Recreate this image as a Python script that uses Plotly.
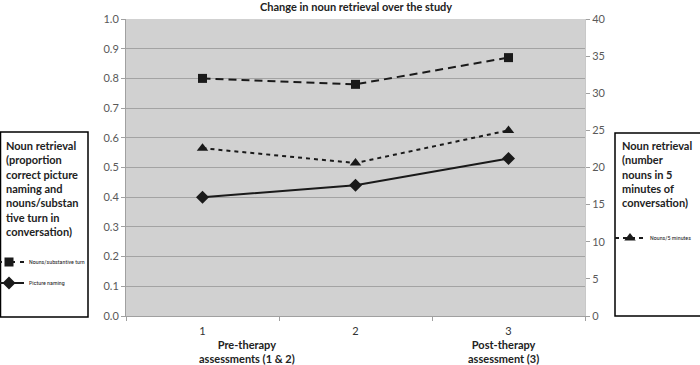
import plotly.graph_objects as go

categories = ["1", "2", "3"]
nouns_per_turn = [0.80, 0.78, 0.87]
picture_naming = [0.40, 0.44, 0.53]
nouns_per_5min = [22.6, 20.6, 25.0]

W, H = 700, 365
L, R, T, B = 126, 585, 19, 316

def px(x):
    return (x - L) / (R - L)

def py(y):
    return (B - y) / (B - T)

FONT = "Lato, Open Sans, sans-serif"
INK = "#1a1a1a"

fig = go.Figure()
fig.add_trace(go.Scatter(
    x=categories, y=nouns_per_turn, name="Nouns/substantive turn",
    mode="lines+markers", line=dict(color=INK, width=2, dash="8px,5px"),
    marker=dict(symbol="square", size=9, color=INK), legend="legend"))
fig.add_trace(go.Scatter(
    x=categories, y=picture_naming, name="Picture naming",
    mode="lines+markers", line=dict(color=INK, width=2),
    marker=dict(symbol="diamond", size=10, color=INK), legend="legend2"))
fig.add_trace(go.Scatter(
    x=categories, y=nouns_per_5min, name="Nouns/5 minutes",
    mode="lines+markers", line=dict(color=INK, width=2, dash="4px,4px"),
    marker=dict(symbol="triangle-up", size=10, color=INK),
    yaxis="y2", legend="legend3"))

legend_common = dict(font=dict(family="Liberation Sans Narrow, Roboto Condensed, sans-serif", size=6, color=INK),
                     bgcolor="rgba(0,0,0,0)", itemwidth=30, xanchor="left", yanchor="middle")

fig.update_layout(
    width=W, height=H,
    margin=dict(l=L, r=W - R, t=T, b=H - B, autoexpand=False),
    paper_bgcolor="white", plot_bgcolor="#d1d1d1",
    font=dict(family=FONT, size=11, color="#595959"),
    showlegend=True,
    legend=dict(x=px(-11), y=py(262), **legend_common),
    legend2=dict(x=px(-11), y=py(283), **legend_common),
    legend3=dict(x=px(610), y=py(238), **legend_common),
    xaxis=dict(type="category", tickson="boundaries", ticks="outside", ticklen=4,
               tickcolor="#a0a0a0", showline=True, linecolor="#a0a0a0", linewidth=1,
               showgrid=False, tickfont=dict(size=11, color="#333333"),
               ticklabelstandoff=5, range=[-0.5, 2.5], automargin=False),
    yaxis=dict(range=[0, 1.0], dtick=0.1, tickformat=".1f", ticks="outside", ticklen=4,
               tickcolor="#a0a0a0", showline=True, linecolor="#a0a0a0", linewidth=1,
               gridcolor="#a3a3a3", gridwidth=1, zeroline=False, automargin=False,
               tickfont=dict(size=11, color="#595959")),
    yaxis2=dict(range=[0, 40], dtick=5, overlaying="y", side="right", ticks="outside", ticklen=4,
                tickcolor="#a0a0a0", showline=True, linecolor="#c8c8c8", linewidth=1,
                showgrid=False, zeroline=False, automargin=False,
                tickfont=dict(size=11, color="#595959")),
)

# Boxes
fig.add_shape(type="rect", xref="paper", yref="paper",
              x0=px(0.5), x1=px(88), y0=py(317), y1=py(132),
              line=dict(color="black", width=1.5), fillcolor="rgba(0,0,0,0)", layer="above")
fig.add_shape(type="rect", xref="paper", yref="paper",
              x0=px(615), x1=px(704), y0=py(316), y1=py(133),
              line=dict(color="black", width=1.5), fillcolor="rgba(0,0,0,0)", layer="above")

fig.add_annotation(xref="paper", yref="paper", x=0.5, y=py(6), xanchor="center", yanchor="middle",
                   text="<b>Change in noun retrieval over the study</b>", showarrow=False,
                   font=dict(size=11, color="#222222"))

fig.add_annotation(xref="paper", yref="paper", x=px(4), y=py(137), xanchor="left", yanchor="top",
                   align="left", showarrow=False,
                   text="<b>Noun retrieval<br>(proportion<br>correct picture<br>naming and<br>nouns/substan<br>tive turn in<br>conversation)</b>",
                   font=dict(size=11, color="#222222"))
fig.add_annotation(xref="paper", yref="paper", x=px(620), y=py(137), xanchor="left", yanchor="top",
                   align="left", showarrow=False,
                   text="<b>Noun retrieval<br>(number<br>nouns in 5<br>minutes of<br>conversation)</b>",
                   font=dict(size=11, color="#222222"))

fig.add_annotation(xref="paper", yref="paper", x=px(247), y=py(336), xanchor="center", yanchor="top",
                   align="center", showarrow=False,
                   text="<b>Pre-therapy<br>assessments (1 &amp; 2)</b>",
                   font=dict(size=11, color="#222222"))
fig.add_annotation(xref="paper", yref="paper", x=px(503), y=py(336), xanchor="center", yanchor="top",
                   align="center", showarrow=False,
                   text="<b>Post-therapy<br>assessment (3)</b>",
                   font=dict(size=11, color="#222222"))

fig.write_html("out.html", config={"displayModeBar": False},
               post_script="document.body.style.margin='0';document.body.style.overflow='hidden';")
